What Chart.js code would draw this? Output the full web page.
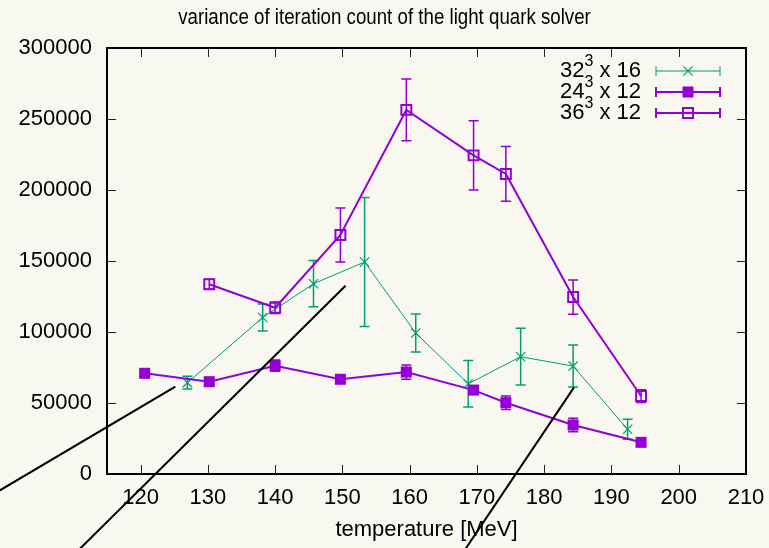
<!DOCTYPE html>
<html>
<head>
<meta charset="utf-8">
<title>variance of iteration count of the light quark solver</title>
<script src="https://cdn.jsdelivr.net/npm/chart.js@4.4.1/dist/chart.umd.min.js"></script>
<style>
  html, body { margin: 0; padding: 0; background: #f8f7f0; }
  canvas { display: block; }
</style>
</head>
<body>
<canvas id="varianceChart" width="769" height="548"></canvas>
<script>
// ==============================
// Data
// ==============================
const temps32 = [126.95, 138.15, 145.7, 153.3, 160.9, 168.7, 176.5, 184.3, 192.4];
const var32   = [64300, 110200, 134000, 149300, 99300, 63500, 82600, 76000, 31500];
const err32   = [4500, 9500, 16300, 45400, 13400, 16400, 20000, 14800, 7100];

const temps24 = [120.6, 130.2, 140.0, 149.7, 159.5, 169.5, 174.3, 184.3, 194.4];
const var24   = [70900, 65000, 76300, 66700, 71800, 59100, 50200, 34500, 22300];
const err24   = [2000, 2000, 4000, 2000, 5000, 3000, 4700, 4800, 2000];

const temps36 = [130.2, 140.0, 149.7, 159.5, 169.5, 174.3, 184.3, 194.4];
const var36   = [133600, 117100, 168300, 256400, 224400, 211300, 124600, 54900];
const err36   = [3500, 4100, 19000, 21700, 24400, 19250, 12050, 4500];

// hand-drawn strokes over the plot (x in MeV, y in counts)
const stroke1X = [97.5, 125.16];
const stroke1Y = [-15900, 61500];
const stroke2X = [109.3, 150.46];
const stroke2Y = [-60500, 132600];
const stroke3X = [167.2, 184.43];
const stroke3Y = [-60500, 61000];

const xTicks = [120, 130, 140, 150, 160, 170, 180, 190, 200, 210];
const yTicks = [0, 50000, 100000, 150000, 200000, 250000, 300000];

const legendBases = ["32", "24", "36"];
const legendTails = [" x 16", " x 12", " x 12"];

const PURPLE = "#9400d3";
const GREEN = "#009e73";
const BG = "#f8f7f0";
const FONT = "'Liberation Sans', Arial, sans-serif";

function pts(xs, ys) {
  return xs.map((x, i) => ({ x: x, y: ys[i] }));
}

// ==============================
// Plugins
// ==============================
const background = {
  id: "background",
  beforeDraw(chart) {
    const ctx = chart.ctx;
    ctx.save();
    ctx.fillStyle = BG;
    ctx.fillRect(0, 0, chart.width, chart.height);
    ctx.restore();
  }
};

// frame with inward ticks on all four sides
const frame = {
  id: "frame",
  beforeDatasetsDraw(chart) {
    const { ctx, chartArea: a, scales } = chart;
    ctx.save();
    ctx.strokeStyle = "#222";
    ctx.lineWidth = 1;
    ctx.beginPath();
    xTicks.forEach(v => {
      const px = Math.round(scales.x.getPixelForValue(v)) + 0.5;
      ctx.moveTo(px, a.bottom); ctx.lineTo(px, a.bottom - 9);
      ctx.moveTo(px, a.top); ctx.lineTo(px, a.top + 9);
    });
    yTicks.forEach(v => {
      const py = Math.round(scales.y.getPixelForValue(v)) + 0.5;
      ctx.moveTo(a.left, py); ctx.lineTo(a.left + 9, py);
      ctx.moveTo(a.right, py); ctx.lineTo(a.right - 9, py);
    });
    ctx.stroke();
    ctx.strokeStyle = "#000";
    ctx.lineWidth = 2;
    ctx.strokeRect(a.left, a.top, a.right - a.left, a.bottom - a.top);
    ctx.restore();
  }
};

const errorBars = {
  id: "errorBars",
  beforeDatasetDraw(chart, args) {
    const ds = chart.data.datasets[args.index];
    if (!ds.errors) return;
    const xs = chart.scales.x, ys = chart.scales.y;
    const ctx = chart.ctx;
    ctx.save();
    ctx.strokeStyle = ds.borderColor;
    ctx.lineWidth = ds.errorWidth;
    ctx.beginPath();
    ds.data.forEach((p, i) => {
      const px = xs.getPixelForValue(p.x);
      const top = ys.getPixelForValue(p.y + ds.errors[i]);
      const bot = ys.getPixelForValue(p.y - ds.errors[i]);
      ctx.moveTo(px, top); ctx.lineTo(px, bot);
      ctx.moveTo(px - 5, top); ctx.lineTo(px + 5, top);
      ctx.moveTo(px - 5, bot); ctx.lineTo(px + 5, bot);
    });
    ctx.stroke();
    ctx.restore();
  }
};

function drawMarker(ctx, style, x, y) {
  if (style === "cross") {
    const d = 4.6;
    ctx.lineWidth = 1.2;
    ctx.beginPath();
    ctx.moveTo(x - d, y - d); ctx.lineTo(x + d, y + d);
    ctx.moveTo(x - d, y + d); ctx.lineTo(x + d, y - d);
    ctx.stroke();
  } else if (style === "filled") {
    ctx.fillRect(x - 5.5, y - 5.5, 11, 11);
  } else {
    ctx.lineWidth = 2;
    ctx.strokeRect(x - 5, y - 5, 10, 10);
  }
}

// gnuplot style title and key
const annotations = {
  id: "annotations",
  afterDraw(chart) {
    const ctx = chart.ctx;
    ctx.save();
    ctx.fillStyle = "#000";
    ctx.textBaseline = "middle";
    ctx.textAlign = "center";
    ctx.font = "22px " + FONT;
    // the title face is a condensed one
    ctx.save();
    ctx.translate(chart.width / 2, 18);
    ctx.scale(0.85, 1);
    ctx.fillText("variance of iteration count of the light quark solver", 0, 0);
    ctx.restore();

    const colors = [GREEN, PURPLE, PURPLE];
    const styles = ["cross", "filled", "open"];
    const rowY = [71, 92, 113];
    const textRight = 641, lineL = 656, lineR = 720;
    ctx.textAlign = "left";
    legendBases.forEach((base, i) => {
      const y = rowY[i];
      ctx.font = "22px " + FONT;
      const wBase = ctx.measureText(base).width;
      const wTail = ctx.measureText(legendTails[i]).width;
      ctx.font = "16px " + FONT;
      const wSup = ctx.measureText("3").width;
      let x = textRight - (wBase + wSup + wTail);
      ctx.fillStyle = "#000";
      ctx.font = "22px " + FONT;
      ctx.fillText(base, x, y);
      x += wBase;
      ctx.font = "16px " + FONT;
      ctx.fillText("3", x, y - 9);
      x += wSup;
      ctx.font = "22px " + FONT;
      ctx.fillText(legendTails[i], x, y);

      ctx.strokeStyle = colors[i];
      ctx.fillStyle = colors[i];
      ctx.lineWidth = i === 0 ? 1 : 2;
      ctx.beginPath();
      ctx.moveTo(lineL, y); ctx.lineTo(lineR, y);
      ctx.moveTo(lineL, y - 5); ctx.lineTo(lineL, y + 5);
      ctx.moveTo(lineR, y - 5); ctx.lineTo(lineR, y + 5);
      ctx.stroke();
      drawMarker(ctx, styles[i], (lineL + lineR) / 2, y);
    });
    ctx.restore();
  }
};

// ==============================
// Chart
// ==============================
function stroke(xs, ys) {
  return {
    data: pts(xs, ys),
    borderColor: "#000",
    borderWidth: 2,
    pointRadius: 0,
    clip: false,
    order: 0
  };
}

const ctx = document.getElementById("varianceChart").getContext("2d");
new Chart(ctx, {
  type: "line",
  data: {
    datasets: [
      {
        label: "32^3 x 16",
        data: pts(temps32, var32),
        errors: err32,
        errorWidth: 1.5,
        borderColor: GREEN,
        backgroundColor: GREEN,
        borderWidth: 1,
        pointStyle: "crossRot",
        pointRadius: 6.5,
        pointBorderWidth: 1.2,
        order: 3
      },
      {
        label: "24^3 x 12",
        data: pts(temps24, var24),
        errors: err24,
        errorWidth: 1.5,
        borderColor: PURPLE,
        backgroundColor: PURPLE,
        borderWidth: 2,
        pointStyle: "rect",
        pointRadius: 7.8,
        pointBorderWidth: 0,
        order: 2
      },
      {
        label: "36^3 x 12",
        data: pts(temps36, var36),
        errors: err36,
        errorWidth: 1.5,
        borderColor: PURPLE,
        backgroundColor: "rgba(0,0,0,0)",
        borderWidth: 2,
        pointStyle: "rect",
        pointRadius: 7,
        pointBorderWidth: 2,
        order: 1
      },
      stroke(stroke1X, stroke1Y),
      stroke(stroke2X, stroke2Y),
      stroke(stroke3X, stroke3Y)
    ]
  },
  options: {
    responsive: false,
    animation: false,
    devicePixelRatio: 1,
    layout: { padding: { top: 48, right: 23, left: 0, bottom: 0 } },
    elements: { line: { tension: 0 } },
    plugins: {
      legend: { display: false },
      title: { display: false },
      tooltip: { enabled: false }
    },
    scales: {
      x: {
        type: "linear",
        min: 115,
        max: 210,
        afterBuildTicks: s => { s.ticks = xTicks.map(v => ({ value: v })); },
        afterFit: s => { s.height = 74; s.paddingLeft = 0; s.paddingRight = 0; },
        grid: { display: false, drawTicks: false },
        border: { display: false },
        ticks: { color: "#000", padding: 11, maxRotation: 0, font: { family: FONT, size: 22 } },
        title: {
          display: true,
          text: "temperature [MeV]",
          color: "#000",
          padding: { top: 0, bottom: 5 },
          font: { family: FONT, size: 22 }
        }
      },
      y: {
        min: 0,
        max: 300000,
        afterBuildTicks: s => { s.ticks = yTicks.map(v => ({ value: v })); },
        afterFit: s => { s.width = 107; s.paddingTop = 0; s.paddingBottom = 0; },
        grid: { display: false, drawTicks: false },
        border: { display: false },
        ticks: { color: "#000", padding: 15, font: { family: FONT, size: 22 }, callback: v => String(v) }
      }
    }
  },
  plugins: [background, frame, errorBars, annotations]
});
</script>
</body>
</html>
